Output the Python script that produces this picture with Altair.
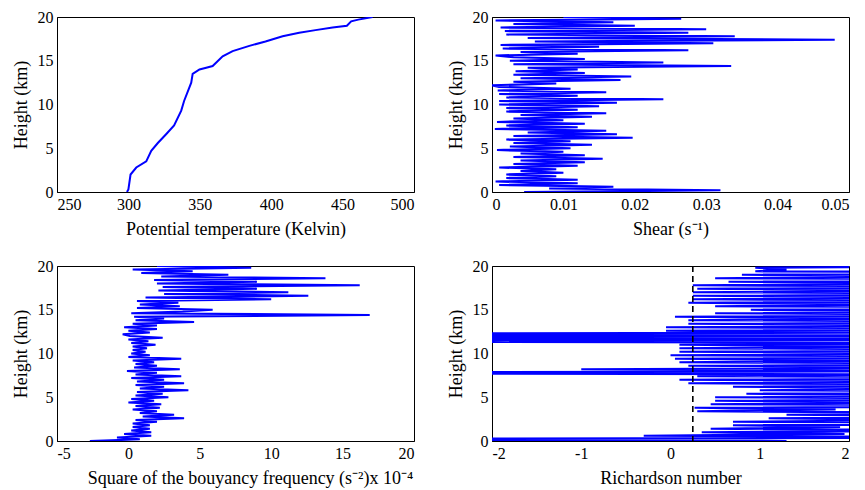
import altair as alt
import pandas as pd

# ---- Panel 1: potential temperature profile ----
theta_k = [299, 300, 301.5, 305.5, 312.5, 316, 320.6, 326.4, 332, 337, 339, 344, 345,
           349.8, 354.5, 359, 366, 373, 384.7, 396, 408, 419.6, 431, 443, 453, 456, 461, 471]
theta_h = [0.0, 0.3, 2.0, 2.8, 3.5, 4.7, 5.6, 6.6, 7.6, 9.3, 10.4, 12.5, 13.5,
           14.0, 14.2, 14.4, 15.5, 16.1, 16.7, 17.2, 17.8, 18.2, 18.5, 18.8, 19.0, 19.5, 19.7, 20.0]

# ---- common sampling heights (km) for the profiles below ----
grid_h = [round(0.2 * i, 1) for i in range(101)]

# ---- Panel 2: shear, in units of 1e-3 s^-1 ----
shear_milli = [4.5, 32, 8, 17, 1, 12, 0.5, 12, 2, 9,
               2, 10, 4, 9, 1, 12, 3, 13, 4, 15.5,
               3, 13, 4, 10, 0.7, 11, 2.5, 14, 3, 11,
               2, 19.7, 3, 17.5, 5, 16, 0.4, 12, 2, 13,
               0.7, 10, 3, 14, 4, 16, 2, 12, 2, 15,
               1, 17.5, 1, 24, 2, 12, 1, 16, 0.8, 11,
               1, 0, 9, 3, 18, 4, 19.5, 3, 13, 3.3,
               12, 5, 33.5, 3, 24, 2.5, 13, 3, 0.5, 12,
               4, 27.5, 1.5, 15, 1.2, 31, 6, 48, 5, 34,
               2, 27.5, 1.8, 30, 1.2, 20, 3, 17, 0.5, 26.5,
               10]

# ---- Panel 3: square of the buoyancy frequency, in units of 1e-4 s^-2 ----
n2_e4 = [-2.7, 0.8, -0.8, 1.6, -0.3, 1.6, 0.2, 1.5, 0.3, 1.5,
         0.3, 2.0, 0.5, 3.9, 1.0, 3.2, 0.8, 2.0, 0.3, 2.2,
         0.5, 2.3, 0.0, 1.8, 0.2, 2.8, 0.5, 2.4, 0.6, 4.2,
         0.8, 2.5, 0.5, 3.9, 0.6, 2.5, 0.2, 3.7, 0.5, 2.0,
         -0.1, 3.6, 0.4, 2.0, 0.5, 1.8, 0.3, 3.7, 0.0, 1.5,
         0.2, 1.2, 0.3, 1.3, 0.3, 1.9, 0.2, 1.4, 0.0, 2.4,
         0.1, -0.4, 1.5, 0.0, 2.0, -0.3, 2.0, 0.3, 4.6, 0.5,
         2.5, 0.4, 16.9, 0.2, 3.8, 5.9, 0.6, 3.6, 0.8, 3.5,
         0.6, 10.0, 1.2, 12.6, 2.5, 11.2, 2.1, 9.0, 2.4, 16.2,
         2.0, 9.0, 1.8, 13.8, 2.3, 7.0, 0.9, 4.5, 0.3, 8.6,
         2.0]

# ---- Panel 4: Richardson number ----
ri = [1.3, -6, 5, -0.3, 1.95, 0.35, 4, 0.45, 1.9, 0.7,
      6, 0.7, 3, 1.1, 5, 1.3, 4, 0.3, 1.85, 0.27,
      6, 0.45, 3, 0.5, 5, 0.5, 4, 0.85, 6, 1.0,
      3, 0.7, 5, 0.2, 4, 0.1, 6, 0.3, 3, -6,
      5, -1.0, 4, 0.2, 6, 0.1, 3, 0.05, 5, 0.0,
      4, 0.1, 6, 0.1, 3, 0.1, 5, -6, 4, -6,
      6, -6, 3, -0.05, 5, -0.05, 4, 0.2, 6, 0.2,
      3, 0.05, 5, 0.5, 4, 0.9, 6, 0.5, 3, 0.2,
      5, 0.25, 4, 0.25, 6, 0.25, 3, 0.3, 5, 0.25,
      4, 0.65, 6, 0.5, 3, 0.8, 5, 0.95, 1.3, 0.95,
      4]
ri_crit = [0.25]

BLUE = "#0000ff"
SERIF = "Liberation Serif, Times New Roman, Times, serif"
W, H = 357, 175
HYPHEN = "replace(datum.label, '\u2212', '-')"

ycommon = dict(scale=alt.Scale(domain=[0, 20], nice=False, zero=False),
               axis=alt.Axis(title="Height (km)", values=[0, 5, 10, 15, 20], format="~f",
                             titlePadding=7))


def xenc(field, dom, vals, title, **kw):
    return alt.X(field, type="quantitative",
                 scale=alt.Scale(domain=dom, nice=False, zero=False),
                 axis=alt.Axis(title=title, values=vals, format="~f", labelExpr=HYPHEN,
                               titlePadding=8, **kw))


df1 = pd.DataFrame({"theta": theta_k, "h": theta_h})
p1 = alt.Chart(df1).mark_line(color=BLUE, strokeWidth=2, clip=True).encode(
    x=xenc("theta", [250, 500], [250, 300, 350, 400, 450, 500], "Potential temperature (Kelvin)"),
    y=alt.Y("h:Q", **ycommon),
    order="h:Q",
).properties(width=W, height=H)

df2 = pd.DataFrame({"shear": [v / 1000 for v in shear_milli], "h": grid_h})
p2 = alt.Chart(df2).mark_line(color=BLUE, strokeWidth=2.2, clip=True).encode(
    x=xenc("shear", [0, 0.05], [0, 0.01, 0.02, 0.03, 0.04, 0.05], "Shear (s\u207b\u00b9)"),
    y=alt.Y("h:Q", **ycommon),
    order="h:Q",
).properties(width=W, height=H)

df3 = pd.DataFrame({"n2": n2_e4, "h": grid_h})
p3 = alt.Chart(df3).mark_line(color=BLUE, strokeWidth=2.2, clip=True).encode(
    x=xenc("n2", [-5, 20], [-5, 0, 5, 10, 15, 20],
           "Square of the bouyancy frequency (s\u207b\u00b2)x 10\u207b\u2074", titleX=193),
    y=alt.Y("h:Q", **ycommon),
    order="h:Q",
).properties(width=W, height=H)

df4 = pd.DataFrame({"ri": ri, "h": grid_h})
line4 = alt.Chart(df4).mark_line(color=BLUE, strokeWidth=2.2, clip=True).encode(
    x=xenc("ri", [-2, 2], [-2, -1, 0, 1, 2], "Richardson number"),
    y=alt.Y("h:Q", **ycommon),
    order="h:Q",
)
rule4 = alt.Chart(pd.DataFrame({"ri": ri_crit})).mark_rule(
    color="black", strokeDash=[6, 4], strokeWidth=1.6).encode(x="ri:Q")
p4 = alt.layer(line4, rule4).properties(width=W, height=H)

chart = alt.concat(p1, p2, p3, p4, columns=2,
                   spacing=alt.RowColnumber(row=74, column=78),
                   bounds="flush").configure_view(
    stroke="black", strokeWidth=1
).configure_axis(
    domainColor="black", domainWidth=1, ticks=False, grid=False,
    labelFont=SERIF, labelFontSize=16, labelColor="black", labelPadding=4,
    titleFont=SERIF, titleFontSize=18, titleFontWeight="normal",
    titleColor="black",
).properties(background="white", padding={"left": 3, "top": 0, "right": 0, "bottom": 0})

chart.save("out.html", embed_options={"renderer": "svg", "actions": False})
